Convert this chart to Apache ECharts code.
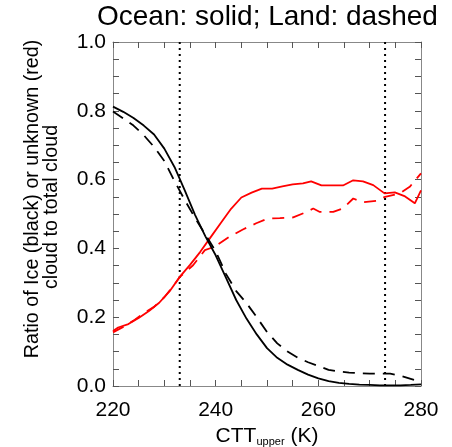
<!DOCTYPE html>
<html>
<head>
<meta charset="utf-8">
<script src="https://cdn.jsdelivr.net/npm/echarts@6/dist/echarts.min.js"></script>
<style>
html,body{margin:0;padding:0;background:#fff;}
#chart{width:452px;height:447px;}
</style>
</head>
<body>
<div id="chart"></div>
<script>
// CTT_upper (K) grid for ice ratio curves
const iceK = [220,222,224,226,228,230,232,234,236,238,240,242,244,246,248,250,252,254,256,258,260,262,264,266,268,270,272,274,276,278,280];
const oceanIce = [0.812,0.797,0.779,0.757,0.731,0.690,0.636,0.568,0.497,0.435,0.380,0.315,0.250,0.196,0.150,0.110,0.082,0.062,0.047,0.033,0.022,0.014,0.009,0.006,0.004,0.003,0.002,0.002,0.002,0.003,0.005];
const landIce  = [0.798,0.778,0.757,0.729,0.695,0.654,0.595,0.540,0.488,0.440,0.392,0.326,0.276,0.241,0.200,0.157,0.124,0.100,0.082,0.069,0.058,0.047,0.042,0.039,0.037,0.036,0.036,0.036,0.030,0.021,0.012];

// unknown-phase ratio curves
const oceanUnkK = [220,221,223,225,227,229,231,233,235,237,239,241,243,245,247,249,251,253,255,257,258.6,260.6,262.7,264.8,266.8,268.7,270.7,272.9,274.9,276.9,278.8,280];
const oceanUnk  = [0.160,0.170,0.180,0.198,0.218,0.242,0.275,0.317,0.352,0.390,0.432,0.474,0.515,0.548,0.562,0.574,0.574,0.580,0.586,0.589,0.595,0.583,0.583,0.583,0.598,0.595,0.584,0.560,0.563,0.551,0.531,0.569];
const landUnkK = [220,222,224,226,228,230,232,233,235.6,237.9,239.8,242.7,245.3,247.9,250.2,252.5,255.1,257.7,259,260.3,262.9,264.8,266.8,268.7,271.3,273,275.9,277.8,280];
const landUnk  = [0.156,0.172,0.190,0.212,0.230,0.258,0.296,0.317,0.351,0.395,0.405,0.434,0.455,0.473,0.487,0.488,0.490,0.506,0.516,0.506,0.506,0.516,0.545,0.534,0.538,0.550,0.560,0.579,0.618];

// reference temperatures (dotted lines)
const vlineK = [233, 273];

const FONT = 'Liberation Sans';
const AX = '#888';
const TK = '#555';

function pairs(xs, ys){ return xs.map((x,i)=>[x, ys[i]]); }

const chart = echarts.init(document.getElementById('chart'), null, {renderer:'canvas'});

function axisParts(){
  return {
    axisLine:{show:true, onZero:false, lineStyle:{color:AX, width:1}},
    axisTick:{show:true, inside:true, length:6, lineStyle:{color:TK, width:1}},
    minorTick:{show:true, splitNumber:4, length:6, lineStyle:{color:TK, width:1}},
    splitLine:{show:false},
    minorSplitLine:{show:false}
  };
}

const series = [
  {name:'Ocean unknown', type:'line', data:pairs(oceanUnkK, oceanUnk), showSymbol:false, symbol:'none',
   lineStyle:{color:'#ff0000', width:1.8}, z:3},
  {name:'Land unknown', type:'line', data:pairs(landUnkK, landUnk), showSymbol:false, symbol:'none',
   lineStyle:{color:'#ff0000', width:1.8, type:[12,8]}, z:3},
  {name:'Ocean ice', type:'line', data:pairs(iceK, oceanIce), showSymbol:false, symbol:'none',
   lineStyle:{color:'#000', width:1.8}, z:4},
  {name:'Land ice', type:'line', data:pairs(iceK, landIce), showSymbol:false, symbol:'none',
   lineStyle:{color:'#000', width:1.8, type:[12,8]}, z:4}
];
vlineK.forEach(k => {
  series.push({type:'line', data:[[k,0],[k,1]], showSymbol:false, symbol:'none',
    lineStyle:{color:'#000', width:2, type:[2,4]}, z:2, silent:true});
});

chart.setOption({
  animation:false,
  backgroundColor:'#fff',
  title:{
    text:'Ocean: solid; Land: dashed',
    left:97, top:3, padding:0,
    textStyle:{fontFamily:FONT, fontSize:28, fontWeight:'normal', color:'#000'}
  },
  grid:{left:113, right:31, top:42, bottom:61, containLabel:false, outerBoundsMode:'none'},
  xAxis:[
    Object.assign(axisParts(), {
      type:'value', min:220, max:280, interval:20, position:'bottom',
      axisLabel:{show:true, margin:14, fontFamily:FONT, fontSize:21, color:'#000'},
      name:'CTT{s|upper} (K)', nameLocation:'middle', nameGap:40,
      nameTextStyle:{fontFamily:FONT, fontSize:21, color:'#000',
        rich:{s:{fontFamily:FONT, fontSize:11, color:'#000', verticalAlign:'bottom'}}}
    }),
    Object.assign(axisParts(), {
      type:'value', min:220, max:280, interval:20, position:'top',
      axisLabel:{show:false}
    })
  ],
  yAxis:[
    Object.assign(axisParts(), {
      type:'value', min:0, max:1, interval:0.2, position:'left',
      axisLabel:{show:true, margin:7, fontFamily:FONT, fontSize:21, color:'#000',
        formatter:v => v.toFixed(1)}
    }),
    Object.assign(axisParts(), {
      type:'value', min:0, max:1, interval:0.2, position:'right',
      axisLabel:{show:false}
    })
  ],
  graphic:[
    {type:'text', x:33, y:199, rotation:Math.PI/2,
     style:{text:'Ratio of Ice (black) or unknown (red)', fontFamily:FONT, fontSize:19.7, fill:'#000',
            textAlign:'center', textVerticalAlign:'middle'}},
    {type:'text', x:52, y:207, rotation:Math.PI/2,
     style:{text:'cloud to total cloud', fontFamily:FONT, fontSize:19.7, fill:'#000',
            textAlign:'center', textVerticalAlign:'middle'}}
  ],
  series:series
});
</script>
</body>
</html>
